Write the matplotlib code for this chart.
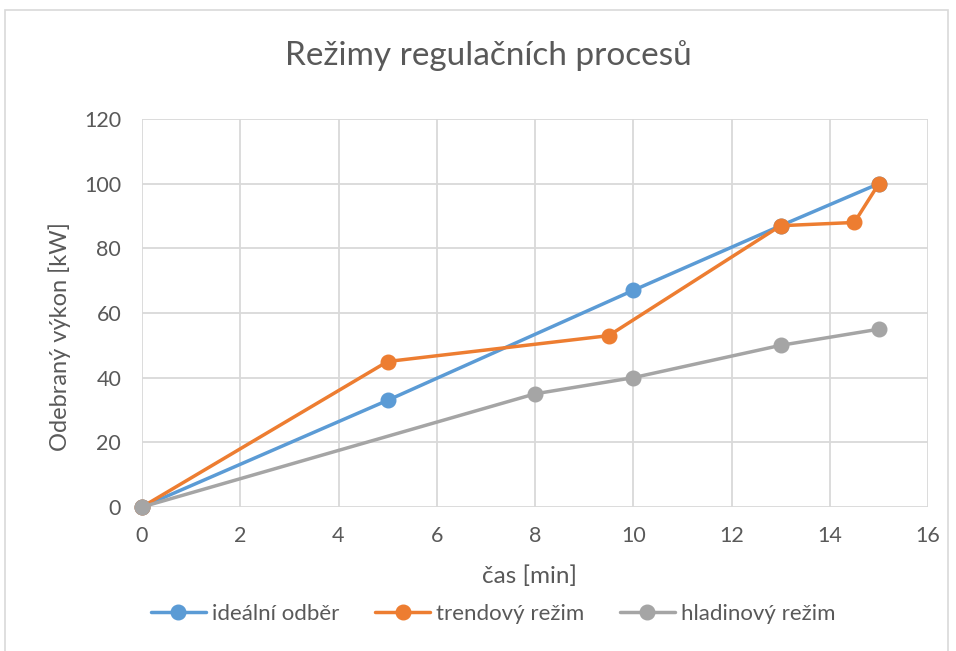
import matplotlib
matplotlib.use("Agg")
import matplotlib.pyplot as plt
from matplotlib.patches import Rectangle

plt.rcParams['font.family'] = ['Lato', 'DejaVu Sans']

ideal_x = [0, 5, 10, 13, 15]
ideal_y = [0, 33, 67, 87, 100]
trend_x = [0, 5, 9.5, 13, 14.5, 15]
trend_y = [0, 45, 53, 87, 88, 100]
hlad_x = [0, 8, 10, 13, 15]
hlad_y = [0, 35, 40, 50, 55]
labels = ["ideální odběr", "trendový režim", "hladinový režim"]
colors = ["#5B9BD5", "#ED7D31", "#A5A5A5"]
text_color = "#595959"

W, H = 956, 651
fig = plt.figure(figsize=(W/100, H/100), dpi=100)
fig.patches.append(Rectangle((5/W, -5/H), 943/W, (H-10+5)/H, transform=fig.transFigure,
                             fill=False, edgecolor="#d9d9d9", linewidth=1.2))
ax = fig.add_axes([142/W, 1-507/H, (928-142)/W, (507-119)/H])

for xs, ys, lab, c in zip([ideal_x, trend_x, hlad_x], [ideal_y, trend_y, hlad_y], labels, colors):
    ax.plot(xs, ys, color=c, linewidth=2.5, marker='o', markersize=10.5, label=lab,
            solid_capstyle='round', clip_on=False)

ax.set_xlim(0, 16)
ax.set_ylim(0, 120)
ax.set_xticks(range(0, 17, 2))
ax.set_yticks(range(0, 121, 20))
ax.grid(True, color="#d9d9d9", linewidth=1.3)
ax.set_axisbelow(True)
for s in ax.spines.values():
    s.set_visible(False)
ax.tick_params(length=0, labelsize=15.5, colors=text_color)
ax.tick_params(axis='x', pad=14)
ax.tick_params(axis='y', pad=15)

fig.text(529/W, 1-576/H, "čas [min]", fontsize=17.5, color=text_color, ha='center', va='center')
fig.text(60/W, 1-337/H, "Odebraný výkon [kW]", fontsize=17, color=text_color,
         ha='center', va='center', rotation=90)
fig.text(488/W, 1-56/H, "Režimy regulačních procesů", fontsize=24, color=text_color,
         ha='center', va='center')

leg = fig.legend(loc='center', bbox_to_anchor=(493/W, 1-614/H), ncol=3, frameon=False,
                 fontsize=16, handlelength=2.5, columnspacing=1.6, handletextpad=0.25,
                 labelcolor=text_color)

fig.savefig("out.png", dpi=100)
